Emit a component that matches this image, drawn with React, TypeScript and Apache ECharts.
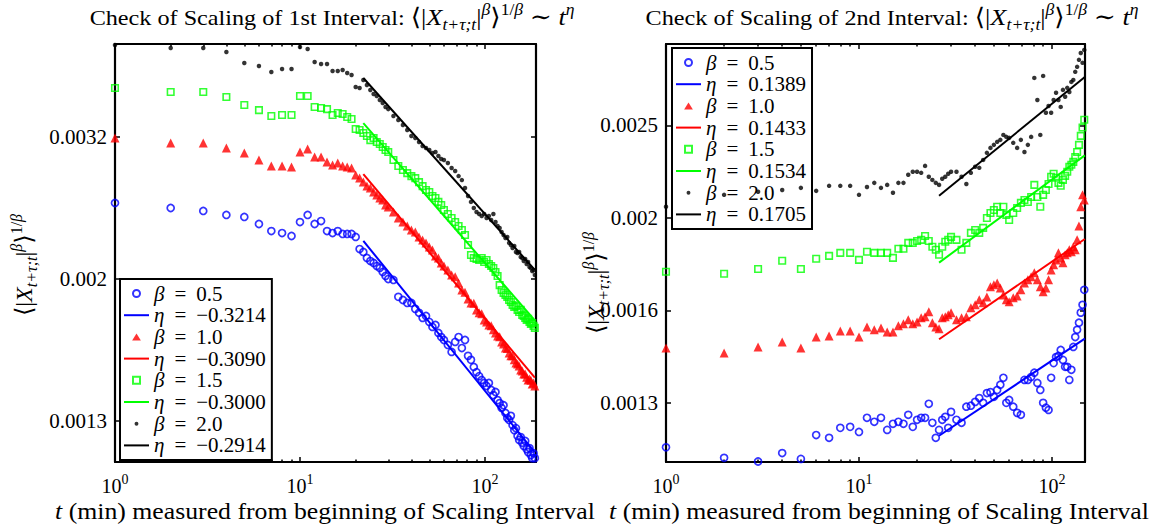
import React, { useEffect, useRef } from "react";
import * as echarts from "echarts";

const FONT = "'Liberation Serif', 'DejaVu Serif', serif";
const MILLI = 1e-3; // values below are stored in units of 10^-3

// ---------- Left panel (1st interval) ----------
const T_LEFT = [1, 2, 3, 4, 5, 6, 7, 8, 9, 10, 11, 12, 13, 14, 15, 16, 17, 18, 19, 20, 21, 22, 23, 24, 25, 26, 27, 28, 29, 30,
  32, 34, 36, 38, 40, 42, 44, 46, 48, 50, 52, 54, 56, 58, 60,
  63, 66, 69, 72, 75, 78, 81, 84, 87, 90, 93, 96, 99, 102, 105, 108, 111, 114, 117, 120, 123, 126, 129, 132, 135, 138, 141,
  144, 147, 150, 153, 156, 159, 162, 165, 168, 171, 174, 177, 180, 183, 186];

const L_BETA05 = [2.553, 2.512, 2.488, 2.456, 2.440, 2.385, 2.331, 2.316, 2.294, 2.400,
  2.456, 2.385, 2.408, 2.331, 2.316, 2.331, 2.309, 2.309, 2.309, 2.287,
  2.199, 2.178, 2.136, 2.115, 2.102, 2.081, 2.068, 2.041, 2.015, 1.995,
  1.989, 1.883, 1.864, 1.846, 1.846, 1.811, 1.788, 1.759, 1.770, 1.736, 1.708, 1.719, 1.675, 1.653, 1.637,
  1.611, 1.575, 1.627, 1.653, 1.595, 1.637, 1.555, 1.535, 1.500, 1.475, 1.456, 1.438, 1.424, 1.410, 1.424, 1.392, 1.369,
  1.383, 1.347, 1.334, 1.313, 1.325, 1.292, 1.271, 1.263, 1.280, 1.242, 1.222, 1.230, 1.199, 1.184, 1.195, 1.173, 1.161,
  1.180, 1.149, 1.138, 1.153, 1.127, 1.116, 1.134, 1.116];

const L_BETA10 = [3.152, 3.101, 3.101, 3.052, 3.003, 2.935, 2.879, 2.879, 2.869, 3.012,
  3.042, 2.964, 2.964, 2.916, 2.888, 2.907, 2.879, 2.869, 2.860, 2.795,
  2.768, 2.732, 2.697, 2.680, 2.646, 2.620, 2.595, 2.578, 2.537, 2.521,
  2.480, 2.432, 2.400, 2.369, 2.339, 2.324, 2.287, 2.265, 2.243, 2.214, 2.192, 2.150, 2.136, 2.102, 2.081,
  2.054, 2.021, 2.010, 1.969, 1.925, 1.912, 1.870, 1.846, 1.845, 1.805, 1.788, 1.782, 1.747, 1.736, 1.719, 1.715, 1.692,
  1.675, 1.659, 1.655, 1.627, 1.616, 1.595, 1.592, 1.570, 1.555, 1.556, 1.535, 1.520, 1.515, 1.505, 1.485, 1.480, 1.466,
  1.466, 1.451, 1.438, 1.443, 1.437, 1.419, 1.424, 1.410];

const L_BETA15 = [3.707, 3.659, 3.659, 3.600, 3.508, 3.451, 3.385, 3.396, 3.396, 3.612,
  3.612, 3.485, 3.474, 3.462, 3.396, 3.418, 3.407, 3.374, 3.352, 3.246,
  3.235, 3.204, 3.173, 3.131, 3.152, 3.111, 3.091, 3.061, 3.032, 3.012,
  2.935, 2.879, 2.841, 2.813, 2.786, 2.768, 2.732, 2.697, 2.663, 2.646, 2.612, 2.595, 2.562, 2.537, 2.496,
  2.464, 2.432, 2.400, 2.369, 2.339, 2.301, 2.228, 2.157, 2.136, 2.129, 2.122, 2.136, 2.108, 2.122, 2.095, 2.081, 2.068,
  2.041, 2.015, 1.956, 1.925, 1.907, 1.895, 1.883, 1.864, 1.852, 1.834, 1.822, 1.828, 1.805, 1.793, 1.805, 1.776, 1.770,
  1.759, 1.747, 1.753, 1.736, 1.725, 1.730, 1.714, 1.703];

const L_BETA20 = [4.262, 4.221, 4.221, 4.166, 4.020, 3.981, 3.905, 3.943, 3.943, 4.234,
  4.207, 4.033, 4.007, 4.007, 3.917, 3.917, 3.930, 3.892, 3.867, 3.720,
  3.707, 3.804, 3.744, 3.683, 3.636, 3.612, 3.565, 3.531, 3.485, 3.462,
  3.385, 3.341, 3.288, 3.235, 3.173, 3.152, 3.111, 3.071, 3.052, 3.032, 3.003, 3.012, 2.973, 2.945, 2.935,
  2.907, 2.860, 2.832, 2.786, 2.750, 2.680, 2.612, 2.562, 2.512, 2.480, 2.464, 2.448, 2.464, 2.432, 2.448, 2.416, 2.464,
  2.400, 2.369, 2.354, 2.324, 2.301, 2.279, 2.287, 2.243, 2.228, 2.206, 2.221, 2.178, 2.171, 2.178, 2.143, 2.136, 2.115,
  2.129, 2.095, 2.108, 2.074, 2.068, 2.047, 2.054, 2.021];

const FIT_T_LEFT = [22, 186];
const L_FIT05 = [2.258, 1.137];
const L_FIT10 = [2.804, 1.449];
const L_FIT15 = [3.309, 1.744];
const L_FIT20 = [3.829, 2.055];
const L_ETA = ["\u22120.3214", "\u22120.3090", "\u22120.3000", "\u22120.2914"];

// ---------- Right panel (2nd interval) ----------
const T_RIGHT = [1, 2, 3, 4, 5, 6, 7, 8, 9, 10, 11, 12, 13, 14, 15, 16, 17, 18, 19, 20, 21, 22, 23, 24, 25, 26, 27, 28, 29, 30,
  32, 34, 36, 38, 40, 42, 44, 46, 48, 50, 52, 54, 56, 58, 60,
  63, 66, 69, 72, 75, 78, 81, 84, 87, 90, 93, 96, 99, 102, 105, 108, 111, 114, 117, 120, 123, 126, 129, 132, 135, 138,
  141, 144, 147];

const R_BETA05 = [1.127, 1.098, 1.088, 1.111, 1.095, 1.162, 1.154, 1.183, 1.186, 1.171,
  1.213, 1.201, 1.213, 1.177, 1.195, 1.201, 1.195, 1.222, 1.186, 1.207,
  1.213, 1.213, 1.256, 1.198, 1.154, 1.177, 1.207, 1.216, 1.183, 1.231,
  1.207, 1.198, 1.247, 1.250, 1.262, 1.274, 1.259, 1.290, 1.293, 1.278, 1.300, 1.317, 1.340, 1.259, 1.268,
  1.247, 1.228, 1.222, 1.333, 1.333, 1.343, 1.357, 1.323, 1.300, 1.259, 1.244, 1.237, 1.340, 1.390, 1.411, 1.415, 1.436,
  1.401, 1.377, 1.377, 1.333, 1.367, 1.447, 1.483, 1.510, 1.537, 1.576, 1.607, 1.668];

const R_BETA10 = [1.443, 1.425, 1.447, 1.465, 1.443, 1.483, 1.487, 1.506, 1.506, 1.483,
  1.521, 1.510, 1.517, 1.502, 1.502, 1.525, 1.533, 1.548, 1.533, 1.540,
  1.556, 1.560, 1.579, 1.537, 1.521, 1.514, 1.556, 1.560, 1.568, 1.576,
  1.548, 1.556, 1.560, 1.595, 1.607, 1.627, 1.615, 1.639, 1.681, 1.689, 1.697, 1.676, 1.647, 1.627, 1.619,
  1.635, 1.643, 1.668, 1.697, 1.710, 1.723, 1.740, 1.710, 1.681, 1.660, 1.676, 1.710, 1.753, 1.775, 1.797, 1.829, 1.806,
  1.784, 1.820, 1.829, 1.843, 1.834, 1.857, 1.843, 1.889, 1.955, 2.051, 2.113, 2.086];

const R_BETA15 = [1.745, 1.736, 1.757, 1.793, 1.757, 1.802, 1.815, 1.829, 1.829, 1.797,
  1.834, 1.829, 1.829, 1.829, 1.806, 1.848, 1.848, 1.875, 1.875, 1.884,
  1.889, 1.907, 1.884, 1.857, 1.843, 1.820, 1.857, 1.880, 1.889, 1.903,
  1.889, 1.843, 1.875, 1.922, 1.936, 1.922, 1.946, 1.995, 2.020, 2.035, 2.051, 2.020, 2.051, 2.010, 1.985,
  2.020, 2.045, 2.071, 2.086, 2.076, 2.102, 2.166, 2.102, 2.051, 2.113, 2.139, 2.171, 2.210, 2.227, 2.205, 2.177, 2.161,
  2.193, 2.215, 2.238, 2.266, 2.277, 2.294, 2.322, 2.351, 2.393, 2.447, 2.499, 2.547];

const R_BETA20 = [2.051, 2.113, 2.129, 2.139, 2.150, 2.134, 2.161, 2.161, 2.161, 2.113,
  2.155, 2.177, 2.150, 2.166, 2.124, 2.177, 2.177, 2.221, 2.238, 2.238,
  2.232, 2.271, 2.210, 2.193, 2.177, 2.166, 2.199, 2.210, 2.227, 2.238,
  2.238, 2.210, 2.171, 2.232, 2.266, 2.260, 2.305, 2.346, 2.375, 2.393, 2.411, 2.423, 2.453, 2.441, 2.435,
  2.405, 2.375, 2.423, 2.351, 2.393, 2.441, 2.827, 2.676, 2.453, 2.841, 2.592, 2.636, 2.592, 2.676, 2.724, 2.676, 2.630,
  2.744, 2.697, 2.758, 2.730, 2.799, 2.813, 2.870, 2.906, 2.957, 3.008, 2.935, 3.031];

const FIT_T_RIGHT = [26, 148];
const R_FIT05 = [1.160, 1.477];
const R_FIT10 = [1.475, 1.893];
const R_FIT15 = [1.785, 2.331];
const R_FIT20 = [2.108, 2.834];
const R_ETA = ["0.1389", "0.1433", "0.1534", "0.1705"];

const BETAS = ["0.5", "1.0", "1.5", "2.0"];

// ---------- Axes ----------
const X_MAJOR = [1, 10, 100];
const X_MINOR = [2, 3, 4, 5, 6, 7, 8, 9, 20, 30, 40, 50, 60, 70, 80, 90];
const LEFT_X_MAX = 188.7;
const RIGHT_X_MAX = 148.3;
const LEFT_Y_RANGE = [0.0011021, 0.004276];
const RIGHT_Y_RANGE = [0.0010866, 0.003076];
const Y_TICK_EXP_LEFT = [-2.9, -2.7, -2.5];
const Y_TICK_EXP_RIGHT = [-2.9, -2.8, -2.7, -2.6];

const TITLE_LEFT = "Check of Scaling of 1st Interval: ";
const TITLE_RIGHT = "Check of Scaling of 2nd Interval: ";
const X_NAME = " (min) measured from beginning of Scaling Interval";

const BLUE = "#0000ff";
const RED = "#ff0000";
const GREEN = "#00ff00";
const BLACK = "#000000";
const CLEAR = "rgba(0,0,0,0)";

const pts = (ts: number[], vs: number[]) => ts.map((t, i) => [t, vs[i] * MILLI]);

const tickLine = { color: "#000", width: 1.5 };
const frameLine = { show: true, onZero: false, lineStyle: { color: "#000", width: 2.2 } };

function xAxes(gridIndex: number, max: number) {
  const base: any = { type: "log", logBase: 10, min: 1, max, gridIndex, splitLine: { show: false } };
  const major = { show: true, inside: true, length: 5, lineStyle: tickLine, customValues: X_MAJOR };
  const minor = { show: true, inside: true, length: 2.5, lineStyle: tickLine, customValues: X_MINOR };
  return [
    {
      ...base, position: "bottom", axisLine: frameLine, axisTick: major,
      axisLabel: {
        show: true, customValues: X_MAJOR, margin: 10,
        formatter: (v: number) => `{b|10}{s|${Math.round(Math.log10(v))}}`,
        rich: {
          b: { fontFamily: FONT, fontSize: 20, color: "#000", lineHeight: 28, verticalAlign: "middle" },
          s: { fontFamily: FONT, fontSize: 14, color: "#000", lineHeight: 14, verticalAlign: "top" },
        },
      },
    },
    { ...base, position: "top", axisLine: frameLine, axisTick: major, axisLabel: { show: false } },
    { ...base, position: "bottom", axisLine: { show: false }, axisTick: minor, axisLabel: { show: false } },
    { ...base, position: "top", axisLine: { show: false }, axisTick: minor, axisLabel: { show: false } },
  ];
}

function yAxes(gridIndex: number, range: number[], exps: number[]) {
  const vals = exps.map((e) => Math.pow(10, e));
  const base: any = { type: "log", logBase: 10, min: range[0], max: range[1], gridIndex, splitLine: { show: false } };
  const tick = { show: true, inside: true, length: 5, lineStyle: tickLine, customValues: vals };
  return [
    {
      ...base, position: "left", axisLine: frameLine, axisTick: tick,
      axisLabel: {
        show: true, customValues: vals, margin: 8, fontFamily: FONT, fontSize: 21, color: "#000",
        formatter: (v: number) => String(Number(v.toPrecision(2))),
      },
    },
    { ...base, position: "right", axisLine: frameLine, axisTick: tick, axisLabel: { show: false } },
  ];
}

const MARK: any = {
  b05: { symbol: "circle", symbolSize: 7, itemStyle: { color: CLEAR, borderColor: BLUE, borderWidth: 1.7 } },
  b10: { symbol: "triangle", symbolSize: 9, itemStyle: { color: RED } },
  b15: { symbol: "rect", symbolSize: 6.5, itemStyle: { color: CLEAR, borderColor: GREEN, borderWidth: 1.6 } },
  b20: { symbol: "circle", symbolSize: 4.5, itemStyle: { color: BLACK } },
};
const LEGEND_ICONS = [
  "path://M10,5A5,5,0,1,1,0,5A5,5,0,1,1,10,5Z",
  "path://M5,0L10,8L0,8Z",
  "path://M0,0H10V10H0Z",
  "path://M0,0L0.01,0M10,10L10.01,10M7.8,5A2.8,2.8,0,1,1,2.2,5A2.8,2.8,0,1,1,7.8,5Z",
];

function panelSeries(xi: number, yi: number, ts: number[], betas: number[][], fitT: number[], fits: number[][], etas: string[]) {
  const keys = ["b05", "b10", "b15", "b20"];
  const colors = [BLUE, RED, GREEN, BLACK];
  const out: any[] = [];
  keys.forEach((k, i) => {
    out.push({
      type: "scatter", name: `\u03b2 = ${BETAS[i]}`, xAxisIndex: xi, yAxisIndex: yi,
      data: pts(ts, betas[i]), ...MARK[k], silent: true, z: 2 + i * 2,
    });
    out.push({
      type: "line", name: `\u03b7 = ${etas[i]}`, xAxisIndex: xi, yAxisIndex: yi,
      data: pts(fitT, fits[i]), symbol: "none", silent: true, z: 3 + i * 2,
      lineStyle: { color: colors[i], width: 2 }, itemStyle: { color: colors[i] },
    });
  });
  return out;
}

const LINE_ICON = "path://M0,0H25V2H0Z";
function legendFor(left: number, top: number, etas: string[]) {
  const data: any[] = [];
  BETAS.forEach((b, i) => {
    data.push({ name: `\u03b2 = ${b}`, icon: LEGEND_ICONS[i] });
    data.push({ name: `\u03b7 = ${etas[i]}`, icon: LINE_ICON });
  });
  const fs = 21;
  return {
    orient: "vertical", left, top, data, selectedMode: false,
    itemWidth: 25, itemHeight: 7, itemGap: 0.7, symbolKeepAspect: true,
    padding: [4, 6, 4, 4],
    borderColor: "#000", borderWidth: 2, backgroundColor: "#fff",
    formatter: (name: string) => `{g|${name.charAt(0)}}{e|=}{n|${name.slice(4)}}`,
    textStyle: {
      fontFamily: FONT, fontSize: fs, lineHeight: fs, color: "#000",
      rich: {
        g: { fontFamily: FONT, fontSize: fs, fontStyle: "italic", color: "#000", lineHeight: fs },
        e: { fontFamily: FONT, fontSize: fs, color: "#000", lineHeight: fs, padding: [0, 10, 0, 10] },
        n: { fontFamily: FONT, fontSize: fs, color: "#000", lineHeight: fs },
      },
    },
  };
}

function mathRich(fs: number, plainFs: number) {
  const lh = Math.round(fs * 1.3);
  const sfs = Math.round(fs * 0.66);
  return {
    p: { fontFamily: FONT, fontSize: plainFs, lineHeight: lh, verticalAlign: "middle", fill: "#000" },
    r: { fontFamily: FONT, fontSize: fs, lineHeight: lh, verticalAlign: "middle", fill: "#000" },
    i: { fontFamily: FONT, fontSize: fs, fontStyle: "italic", lineHeight: lh, verticalAlign: "middle", fill: "#000" },
    sup: { fontFamily: FONT, fontSize: sfs, fontStyle: "italic", lineHeight: sfs, verticalAlign: "top", fill: "#000" },
    supr: { fontFamily: FONT, fontSize: sfs, lineHeight: sfs, verticalAlign: "top", fill: "#000" },
    sub: { fontFamily: FONT, fontSize: sfs, fontStyle: "italic", lineHeight: sfs, verticalAlign: "bottom", fill: "#000" },
  };
}

const MEAN_EXPR = "{r|\u27e8|}{i|X}{sub|t+\u03c4;t}{r||}{sup|\u03b2}{r|\u27e9}{supr|1/}{sup|\u03b2}";
const titleText = (s: string) => `{p|${s}}${MEAN_EXPR}{r| \u223c }{i|t}{sup|\u03b7}`;
const xNameText = `{i|t}{p|${X_NAME}}`;

function textEl(x: number, y: number, text: string, fs: number, plainFs: number, rotation = 0, scaleX = 1) {
  return {
    type: "text", x, y, rotation, scaleX, silent: true,
    style: { text, rich: mathRich(fs, plainFs), align: "center", verticalAlign: "middle", fill: "#000", fontFamily: FONT, fontSize: fs },
  };
}

function buildOption() {
  return {
    animation: false,
    backgroundColor: "#fff",
    grid: [
      { left: 115, top: 44, width: 421, height: 418, outerBoundsMode: "none" },
      { left: 666, top: 44, width: 419, height: 418, outerBoundsMode: "none" },
    ],
    xAxis: [...xAxes(0, LEFT_X_MAX), ...xAxes(1, RIGHT_X_MAX)],
    yAxis: [...yAxes(0, LEFT_Y_RANGE, Y_TICK_EXP_LEFT), ...yAxes(1, RIGHT_Y_RANGE, Y_TICK_EXP_RIGHT)],
    legend: [legendFor(120, 279, L_ETA), legendFor(672, 48, R_ETA)],
    series: [
      ...panelSeries(0, 0, T_LEFT, [L_BETA05, L_BETA10, L_BETA15, L_BETA20], FIT_T_LEFT, [L_FIT05, L_FIT10, L_FIT15, L_FIT20], L_ETA),
      ...panelSeries(4, 2, T_RIGHT, [R_BETA05, R_BETA10, R_BETA15, R_BETA20], FIT_T_RIGHT, [R_FIT05, R_FIT10, R_FIT15, R_FIT20], R_ETA),
    ],
    graphic: [
      textEl(332, 17, titleText(TITLE_LEFT), 24, 22, 0, 1.1),
      textEl(892, 17, titleText(TITLE_RIGHT), 24, 22, 0, 1.1),
      textEl(325, 511, xNameText, 23, 23, 0, 1.12),
      textEl(879, 511, xNameText, 23, 23, 0, 1.12),
      textEl(24, 265, MEAN_EXPR, 24, 24, Math.PI / 2),
      textEl(596, 283, MEAN_EXPR, 24, 24, Math.PI / 2),
    ],
  };
}

export default function App() {
  const ref = useRef<HTMLDivElement>(null);
  useEffect(() => {
    document.body.style.margin = "0";
    const chart = echarts.init(ref.current as HTMLDivElement, null, { renderer: "svg" });
    chart.setOption(buildOption() as any);
    return () => chart.dispose();
  }, []);
  return <div ref={ref} style={{ width: 1160, height: 529 }} />;
}
